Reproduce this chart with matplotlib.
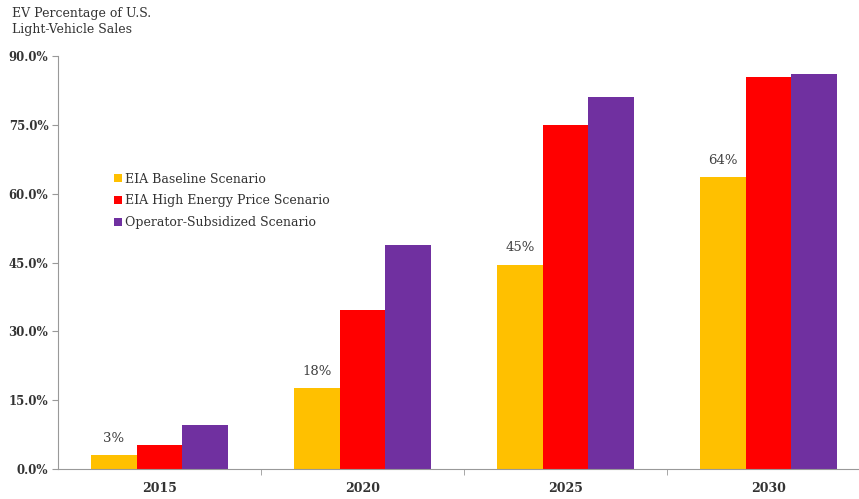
import matplotlib.pyplot as plt
import numpy as np

years = ["2015", "2020", "2025", "2030"]
baseline = [3.0, 17.6, 44.5, 63.6]
high_price = [5.2, 34.6, 75.0, 85.4]
subsidized = [9.6, 48.8, 81.1, 86.1]
baseline_labels = ["3%", "18%", "45%", "64%"]
series_names = ["EIA Baseline Scenario", "EIA High Energy Price Scenario",
                "Operator-Subsidized Scenario"]
colors = ["#FFC000", "#FF0000", "#7030A0"]

plt.rcParams['font.family'] = ['DejaVu Serif']

fig = plt.figure(figsize=(8.59, 4.99), dpi=100)
ax = fig.add_axes([58 / 859, 1 - 469 / 499, 1 - 58 / 859, (469 - 56) / 499])

x = np.arange(len(years))
w = 0.224
series = [baseline, high_price, subsidized]
bars = []
for i, (vals, name, c) in enumerate(zip(series, series_names, colors)):
    b = ax.bar(x + (i - 1) * w, vals, width=w, color=c, label=name, linewidth=0)
    bars.append(b)

# data labels on the baseline bars
for rect, lab in zip(bars[0], baseline_labels):
    ax.text(rect.get_x() + rect.get_width() / 2, rect.get_height() + 2.3, lab,
            ha='center', va='bottom', fontsize=9.5, color='#404040')

ax.set_xlim(-0.5, (859 - 58) / 203 - 0.5)
ax.set_ylim(0, 90)
ax.set_yticks(np.arange(0, 91, 15))
ax.set_yticklabels([f"{v:.1f}%" for v in np.arange(0, 91, 15)], fontsize=8.5,
                   fontweight='bold', color='#333333')
ax.set_xticks(x)
ax.set_xticklabels(years, fontsize=9, fontweight='bold', color='#333333')
ax.set_xticks(np.arange(0.5, 3.5, 1), minor=True)
ax.tick_params(axis='x', which='major', length=0, pad=9)
ax.tick_params(axis='x', which='minor', length=4, color='#999999')
ax.tick_params(axis='y', length=4, color='#999999', pad=3)

for s in ['top', 'right']:
    ax.spines[s].set_visible(False)
for s in ['left', 'bottom']:
    ax.spines[s].set_color('#999999')

leg = ax.legend(loc='upper left', bbox_to_anchor=(0.056, 0.745), frameon=False,
                fontsize=9, handlelength=0.6, handleheight=0.6,
                handletextpad=0.25, labelspacing=0.7)
for t in leg.get_texts():
    t.set_color('#333333')

fig.text(12 / 859, 1 - 7 / 499, "EV Percentage of U.S.\nLight-Vehicle Sales",
         ha='left', va='top', fontsize=9, color='#333333', linespacing=1.35)

fig.savefig('out.png', dpi=100)
